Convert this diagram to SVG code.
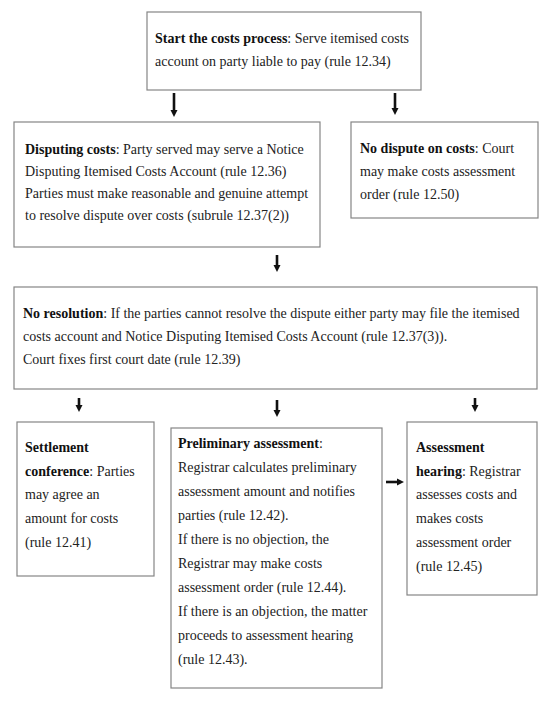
<svg xmlns="http://www.w3.org/2000/svg" width="554" height="701" viewBox="0 0 554 701">
<style>
.box{fill:#fff;stroke:#858585;stroke-width:1.2}
.t{font-family:"Liberation Serif","Times New Roman",serif;font-size:14px;fill:#222}
.b{font-weight:bold;fill:#111}
.arr{stroke:#111;stroke-width:2.6;fill:none}
</style>
<defs>
<marker id="ah" markerUnits="userSpaceOnUse" markerWidth="8" markerHeight="8" refX="1" refY="4" orient="auto" viewBox="0 0 8 8">
<path d="M0,0.5 L7,4 L0,7.5 Z" fill="#111"/>
</marker>
</defs>
<g id="connectors">
<line class="arr" x1="174" y1="93" x2="174" y2="111" marker-end="url(#ah)"/>
<line class="arr" x1="395" y1="93" x2="395" y2="109" marker-end="url(#ah)"/>
<line class="arr" x1="277" y1="255" x2="277" y2="266" marker-end="url(#ah)"/>
<line class="arr" x1="79" y1="398" x2="79" y2="406" marker-end="url(#ah)"/>
<line class="arr" x1="277" y1="400" x2="277" y2="411" marker-end="url(#ah)"/>
<line class="arr" x1="475" y1="398" x2="475" y2="406" marker-end="url(#ah)"/>
<line class="arr" x1="386" y1="482" x2="398" y2="482" stroke-width="2.4" marker-end="url(#ah)"/>
</g>
<g id="start">
<rect class="box" x="147" y="12" width="274" height="78"/>
<text class="t" x="155" y="43"><tspan class="b">Start the costs process</tspan>: Serve itemised costs</text>
<text class="t" x="155" y="66">account on party liable to pay (rule 12.34)</text>
</g>
<g id="disputing">
<rect class="box" x="14" y="122" width="306" height="125"/>
<text class="t" x="25" y="154"><tspan class="b">Disputing costs</tspan>: Party served may serve a Notice</text>
<text class="t" x="25" y="176">Disputing Itemised Costs Account (rule 12.36)</text>
<text class="t" x="25" y="198">Parties must make reasonable and genuine attempt</text>
<text class="t" x="25" y="220">to resolve dispute over costs (subrule 12.37(2))</text>
</g>
<g id="nodispute">
<rect class="box" x="351" y="122" width="187" height="96"/>
<text class="t" x="360" y="153"><tspan class="b">No dispute on costs</tspan>: Court</text>
<text class="t" x="360" y="176">may make costs assessment</text>
<text class="t" x="360" y="199">order (rule 12.50)</text>
</g>
<g id="noresolution">
<rect class="box" x="14" y="287" width="523" height="102"/>
<text class="t" x="23" y="318"><tspan class="b">No resolution</tspan>: If the parties cannot resolve the dispute either party may file the itemised</text>
<text class="t" x="23" y="341">costs account and Notice Disputing Itemised Costs Account (rule 12.37(3)).</text>
<text class="t" x="23" y="364">Court fixes first court date (rule 12.39)</text>
</g>
<g id="settlement">
<rect class="box" x="17" y="422" width="137" height="154"/>
<text class="t" x="25" y="452"><tspan class="b">Settlement</tspan></text>
<text class="t" x="25" y="476"><tspan class="b">conference</tspan>: Parties</text>
<text class="t" x="25" y="499">may agree an</text>
<text class="t" x="25" y="523">amount for costs</text>
<text class="t" x="25" y="547">(rule 12.41)</text>
</g>
<g id="preliminary">
<rect class="box" x="171" y="428" width="211" height="260"/>
<text class="t" x="178" y="448"><tspan class="b">Preliminary assessment</tspan>:</text>
<text class="t" x="178" y="472">Registrar calculates preliminary</text>
<text class="t" x="178" y="496">assessment amount and notifies</text>
<text class="t" x="178" y="520">parties (rule 12.42).</text>
<text class="t" x="178" y="544">If there is no objection, the</text>
<text class="t" x="178" y="568">Registrar may make costs</text>
<text class="t" x="178" y="592">assessment order (rule 12.44).</text>
<text class="t" x="178" y="616">If there is an objection, the matter</text>
<text class="t" x="178" y="640">proceeds to assessment hearing</text>
<text class="t" x="178" y="664">(rule 12.43).</text>
</g>
<g id="hearing">
<rect class="box" x="407" y="422" width="130" height="173"/>
<text class="t" x="416" y="452"><tspan class="b">Assessment</tspan></text>
<text class="t" x="416" y="476"><tspan class="b">hearing</tspan>: Registrar</text>
<text class="t" x="416" y="499">assesses costs and</text>
<text class="t" x="416" y="523">makes costs</text>
<text class="t" x="416" y="547">assessment order</text>
<text class="t" x="416" y="571">(rule 12.45)</text>
</g>
</svg>
